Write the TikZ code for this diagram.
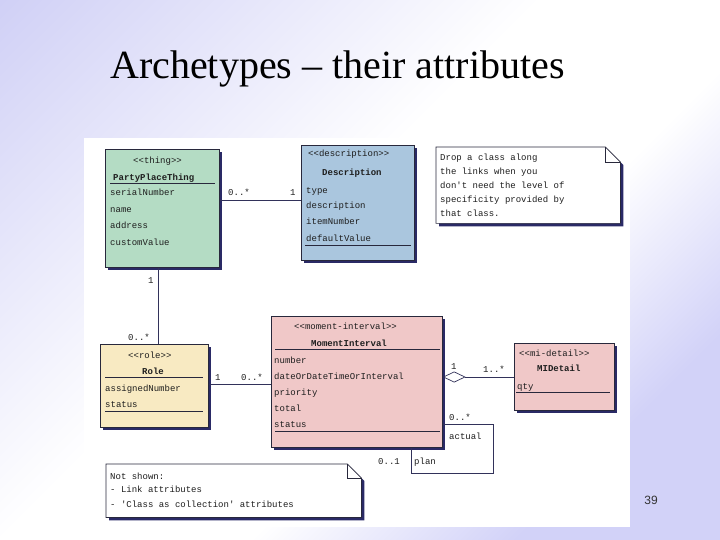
\documentclass[tikz,border=0pt]{standalone}
\usepackage{fontspec}
\setmainfont{Liberation Serif}
\setmonofont{Liberation Mono}
\setsansfont{Liberation Sans}
\usetikzlibrary{arrows.meta,shadows,calc}
\definecolor{lav}{RGB}{198,198,244}
\definecolor{lavb}{RGB}{210,210,248}
\definecolor{shadowc}{RGB}{42,42,102}
\definecolor{edge}{RGB}{40,40,60}
\definecolor{conn}{RGB}{50,50,90}
\definecolor{txt}{RGB}{30,30,30}
\definecolor{cgreen}{RGB}{180,220,196}
\definecolor{cblue}{RGB}{170,198,222}
\definecolor{cyellow}{RGB}{248,234,194}
\definecolor{cpink}{RGB}{240,200,200}
\pgfdeclareverticalshading{bgshade}{100bp}{color(0bp)=(lavb); color(26bp)=(lavb); color(41bp)=(white); color(55bp)=(white); color(92bp)=(lav); color(100bp)=(lav)}
\begin{document}
\begin{tikzpicture}[x=1pt,y=-1pt,
  cls/.style={draw=edge, line width=0.7pt, anchor=north west, inner sep=0pt,
    drop shadow={shadow xshift=3pt, shadow yshift=-3pt, fill=shadowc, opacity=1}},
  t/.style={anchor=base west, inner sep=0pt, text=txt, font=\ttfamily\fontsize{9}{10}\selectfont},
  tb/.style={t, font=\ttfamily\bfseries\fontsize{9}{10}\selectfont},
  sep/.style={draw=edge, line width=0.7pt},
  link/.style={draw=conn, line width=0.7pt},
  notefr/.style={anchor=north west, inner sep=0pt, draw=none, fill=none}]
\useasboundingbox (0,0) rectangle (720,540);
\shade[shading=bgshade, shading angle=45] (0,0) rectangle (720,540);
\node[anchor=base west, inner sep=0pt, font=\fontsize{40}{44}\selectfont] (title) at (110,79) {Archetypes – their attributes};
\fill[white] (84,138) rectangle (630,527);
\node[font=\sffamily\fontsize{12}{14}\selectfont, text=black!80, inner sep=0pt] (pg) at (651,500) {39};

% PartyPlaceThing
\node[cls, fill=cgreen, minimum width=114pt, minimum height=118pt] (ppt) at (105,149) {};
\node[t] (ppts) at (133,164) {\textless\textless thing\textgreater\textgreater};
\node[tb] (pptn) at (113,181) {PartyPlaceThing};
\draw[sep] (110,183) -- (215,183);
\node[t] (ppa1) at (110,196) {serialNumber};
\node[t] (ppa2) at (110,213) {name};
\node[t] (ppa3) at (110,229) {address};
\node[t] (ppa4) at (110,245) {customValue};

% Description
\node[cls, fill=cblue, minimum width=113pt, minimum height=115pt] (desc) at (301,145) {};
\node[t] (descs) at (308,157) {\textless\textless description\textgreater\textgreater};
\node[tb] (descn) at (322,176) {Description};
\node[t] (dea1) at (306,194) {type};
\node[t] (dea2) at (306,209) {description};
\node[t] (dea3) at (306,225) {itemNumber};
\node[t] (dea4) at (306,241) {defaultValue};
\draw[sep] (305,245) -- (411,245);

% Note 1
\node[notefr, minimum width=184pt, minimum height=76pt] (n1) at (436,147) {};
\fill[shadowc] ($(n1.north west)+(3,3)$) -- ($(n1.north east)+(-12,3)$) -- ($(n1.north east)+(3,18)$) -- ($(n1.south east)+(3,3)$) -- ($(n1.south west)+(3,3)$) -- cycle;
\draw[sep, fill=white] (n1.north west) -- ($(n1.north east)+(-15,0)$) -- ($(n1.north east)+(0,15)$) -- (n1.south east) -- (n1.south west) -- cycle;
\draw[sep] ($(n1.north east)+(-15,0)$) -- ($(n1.north east)+(-15,15)$) -- ($(n1.north east)+(0,15)$);
\node[t] (n1l1) at (440,161) {Drop a class along};
\node[t] (n1l2) at (440,175) {the links when you};
\node[t] (n1l3) at (440,189) {don\textquotesingle t need the level of};
\node[t] (n1l4) at (440,203) {specificity provided by};
\node[t] (n1l5) at (440,217) {that class.};

% Role
\node[cls, fill=cyellow, minimum width=108pt, minimum height=83pt] (role) at (100,344) {};
\node[t] (roles) at (128,358) {\textless\textless role\textgreater\textgreater};
\node[tb] (rolen) at (142,374) {Role};
\draw[sep] (105,377) -- (203,377);
\node[t] (roa1) at (105,391) {assignedNumber};
\node[t] (roa2) at (105,407) {status};
\draw[sep] (105,411) -- (203,411);

% MomentInterval
\node[cls, fill=cpink, minimum width=171pt, minimum height=131pt] (mi) at (271,316) {};
\node[t] (mis) at (294,329) {\textless\textless moment-interval\textgreater\textgreater};
\node[tb] (min) at (311,346) {MomentInterval};
\draw[sep] (275,349) -- (440,349);
\node[t] (mia1) at (274,363) {number};
\node[t] (mia2) at (274,379) {dateOrDateTimeOrInterval};
\node[t] (mia3) at (274,395) {priority};
\node[t] (mia4) at (274,411) {total};
\node[t] (mia5) at (274,427) {status};
\draw[sep] (275,431) -- (440,431);

% MIDetail
\node[cls, fill=cpink, minimum width=100pt, minimum height=67pt] (mid) at (514,343) {};
\node[t] (mids) at (519,356) {\textless\textless mi-detail\textgreater\textgreater};
\node[tb] (midn) at (537,371) {MIDetail};
\node[t] (mida1) at (517,389) {qty};
\draw[sep] (516,392) -- (610,392);

% Note 2
\node[notefr, minimum width=255pt, minimum height=53pt] (n2) at (106,464) {};
\fill[shadowc] ($(n2.north west)+(3,3)$) -- ($(n2.north east)+(-11,3)$) -- ($(n2.north east)+(3,17)$) -- ($(n2.south east)+(3,3)$) -- ($(n2.south west)+(3,3)$) -- cycle;
\draw[sep, fill=white] (n2.north west) -- ($(n2.north east)+(-14,0)$) -- ($(n2.north east)+(0,14)$) -- (n2.south east) -- (n2.south west) -- cycle;
\draw[sep] ($(n2.north east)+(-14,0)$) -- ($(n2.north east)+(-14,14)$) -- ($(n2.north east)+(0,14)$);
\node[t] (n2l1) at (110,479) {Not shown:};
\node[t] (n2l2) at (110,492) {- Link attributes};
\node[t] (n2l3) at (110,507) {- \textquotesingle Class as collection\textquotesingle{} attributes};

% connectors
\draw[link] (ppt.east |- 0,200) -- (desc.west |- 0,200);
\node[t] (l1a) at (228,196) {0..*};
\node[t] (l1b) at (290,196) {1};

\draw[link] (ppt.south -| 158,0) -- (role.north -| 158,0);
\node[t] (l2a) at (148,283) {1};
\node[t] (l2b) at (128,340) {0..*};

\draw[link] (role.east |- 0,384) -- (mi.west |- 0,384);
\node[t] (l3a) at (215,380) {1};
\node[t] (l3b) at (241,380) {0..*};

\draw[link, {Diamond[open, length=23pt, width=11pt, line width=0.7pt]}-] (mi.east |- 0,377) -- (mid.west |- 0,377);
\node[t] (l4a) at (451,369) {1};
\node[t] (l4b) at (483,372) {1..*};

\coordinate (lpa) at (493,424);
\coordinate (lpb) at (411,473);
\draw[link] (mi.east |- lpa) -- (lpa) |- (lpb) -- (mi.south -| lpb);
\node[t] (l5a) at (449,420) {0..*};
\node[t] (l5b) at (449,439) {actual};
\node[t] (l5c) at (378,464) {0..1};
\node[t] (l5d) at (414,464) {plan};
\end{tikzpicture}
\end{document}
